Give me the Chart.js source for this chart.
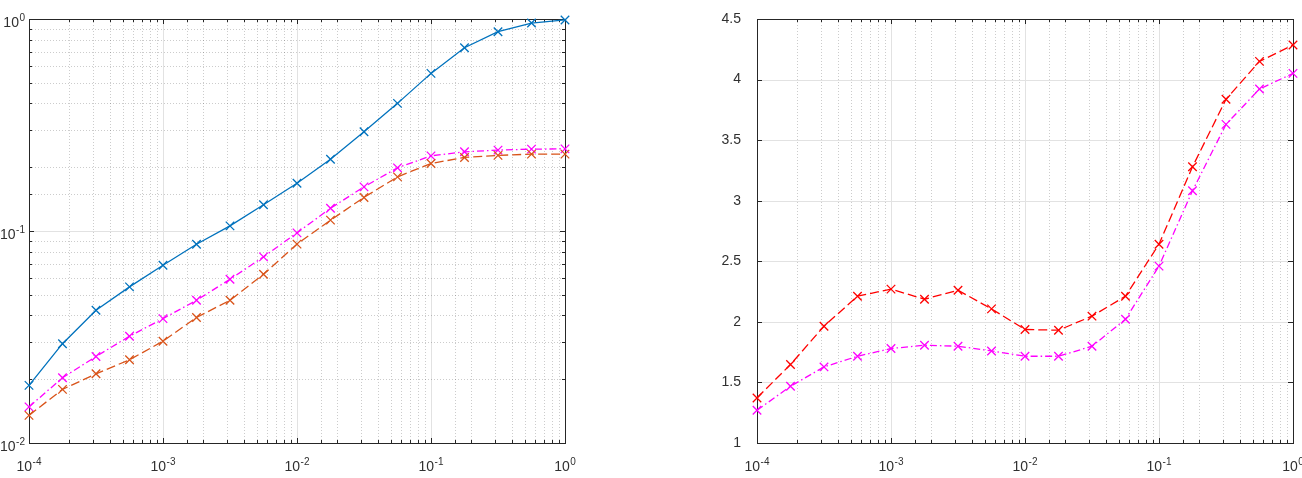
<!DOCTYPE html>
<html><head><meta charset="utf-8">
<script src="https://cdn.jsdelivr.net/npm/chart.js@4/dist/chart.umd.min.js"></script>
<style>
html,body{margin:0;padding:0;background:#fff;overflow:hidden}
#wrap{position:relative;width:1302px;height:478px;background:#fff}
canvas{position:absolute;top:0}
#c1{left:0}
#c2{left:651px}
</style></head><body>
<div id="wrap"><canvas id="c1" width="651" height="478"></canvas><canvas id="c2" width="651" height="478"></canvas></div>
<script>
// ---- data ----
const xValues = [1e-4, 1.778e-4, 3.162e-4, 5.623e-4, 1e-3, 1.778e-3, 3.162e-3, 5.623e-3, 1e-2, 1.778e-2, 3.162e-2, 5.623e-2, 1e-1, 0.1778, 0.3162, 0.5623, 1];
const leftBlue    = [0.0187, 0.0294, 0.0423, 0.0545, 0.0689, 0.0866, 0.1057, 0.133, 0.168, 0.218, 0.294, 0.400, 0.554, 0.732, 0.871, 0.957, 0.99];
const leftMagenta = [0.0148, 0.0203, 0.0256, 0.0319, 0.0386, 0.0471, 0.0592, 0.0755, 0.098, 0.128, 0.1615, 0.1986, 0.2262, 0.2363, 0.2407, 0.2433, 0.244];
const leftOrange  = [0.0135, 0.0179, 0.0212, 0.0247, 0.0302, 0.0391, 0.0471, 0.0625, 0.0867, 0.1125, 0.144, 0.180, 0.2083, 0.2223, 0.2273, 0.2305, 0.2305];
const rightRed     = [1.372, 1.648, 1.964, 2.212, 2.27, 2.187, 2.261, 2.107, 1.937, 1.931, 2.047, 2.212, 2.641, 3.280, 3.837, 4.150, 4.285];
const rightMagenta = [1.27, 1.468, 1.628, 1.716, 1.78, 1.807, 1.799, 1.76, 1.716, 1.716, 1.799, 2.022, 2.46, 3.082, 3.63, 3.922, 4.051];
const xRange = [1e-4, 1];
const leftYRange = [1e-2, 1];
const rightYRange = [1, 4.5];
const rightYStep = 0.5;

// ---- helpers ----
const FAMILY = "'Liberation Sans','DejaVu Sans',Arial,sans-serif";
const BASE_PX = 14, EXP_PX = 10;
const TXT = '#303030';
function isDecade(v){const e=Math.log10(v);return Math.abs(e-Math.round(e))<1e-6;}
function decadeExp(v){return String(Math.round(Math.log10(v)));}
const pts = (ys)=>xValues.map((x,i)=>({x:x,y:ys[i]}));

// draws "10" with a raised exponent; anchor: 'center' (x axis) or 'right' (y axis)
function drawPow(ctx, exp, x, baseline, anchor){
  ctx.font = BASE_PX+'px '+FAMILY;
  const wb = ctx.measureText('10').width;
  ctx.font = EXP_PX+'px '+FAMILY;
  const we = ctx.measureText(exp).width;
  const total = wb+we+0.5;
  let x0 = anchor==='center' ? x-total/2 : x-total;
  ctx.fillStyle = TXT;
  ctx.textAlign='left'; ctx.textBaseline='alphabetic';
  ctx.font = BASE_PX+'px '+FAMILY;
  ctx.fillText('10', x0, baseline);
  ctx.font = EXP_PX+'px '+FAMILY;
  ctx.fillText(exp, x0+wb+0.5, baseline-6);
}

const frame = {
  id:'frame',
  beforeDatasetsDraw(chart){
    const {ctx, chartArea:a, scales:{x,y}} = chart;
    const L=Math.round(a.left), R=Math.round(a.right), T=Math.round(a.top), B=Math.round(a.bottom);
    const yLog = y.type==='logarithmic';
    ctx.save();
    const vline=(px,major)=>{
      ctx.beginPath();
      ctx.setLineDash(major?[]:[1,2]);
      ctx.strokeStyle = major?'#e2e2e2':'rgba(0,0,0,0.2)';
      ctx.lineWidth=1;
      ctx.moveTo(px+0.5,T); ctx.lineTo(px+0.5,B); ctx.stroke();
    };
    const hline=(py,major)=>{
      ctx.beginPath();
      ctx.setLineDash(major?[]:[1,2]);
      ctx.strokeStyle = major?'#e2e2e2':'rgba(0,0,0,0.2)';
      ctx.lineWidth=1;
      ctx.moveTo(L,py+0.5); ctx.lineTo(R,py+0.5); ctx.stroke();
    };
    x.ticks.forEach(t=>{const px=Math.round(x.getPixelForValue(t.value)); if(px>L&&px<R) vline(px,isDecade(t.value));});
    y.ticks.forEach(t=>{const py=Math.round(y.getPixelForValue(t.value)); if(py>T&&py<B) hline(py, yLog?isDecade(t.value):true);});
    ctx.setLineDash([]);
    ctx.strokeStyle='#262626'; ctx.lineWidth=1;
    ctx.strokeRect(L+0.5,T+0.5,R-L,B-T);
    ctx.beginPath();
    x.ticks.forEach(t=>{
      const px=Math.round(x.getPixelForValue(t.value))+0.5;
      const len=isDecade(t.value)?5:3;
      ctx.moveTo(px,B); ctx.lineTo(px,B-len);
      ctx.moveTo(px,T); ctx.lineTo(px,T+len);
    });
    y.ticks.forEach(t=>{
      const py=Math.round(y.getPixelForValue(t.value))+0.5;
      const len=(!yLog||isDecade(t.value))?5:3;
      ctx.moveTo(L,py); ctx.lineTo(L+len,py);
      ctx.moveTo(R,py); ctx.lineTo(R-len,py);
    });
    ctx.stroke();
    // power-of-ten tick labels
    x.ticks.forEach(t=>{
      if(!isDecade(t.value)) return;
      drawPow(ctx, decadeExp(t.value), x.getPixelForValue(t.value), B+28, 'center');
    });
    if(yLog){
      y.ticks.forEach(t=>{
        if(!isDecade(t.value)) return;
        drawPow(ctx, decadeExp(t.value), L-4, y.getPixelForValue(t.value)+8, 'right');
      });
    }
    ctx.restore();
  }
};

function ds(data,color,dash){
  return {data:data,borderColor:color,backgroundColor:color,borderWidth:1.3,borderDash:dash,
    pointStyle:'crossRot',pointRadius:6,pointBorderWidth:1.3,pointBorderColor:color,
    pointHoverRadius:6,tension:0,fill:false,clip:false};
}

function xScale(){
  return {type:'logarithmic',min:xRange[0],max:xRange[1],
    grid:{display:false},border:{display:false},
    ticks:{display:false,autoSkip:false,maxRotation:0,minRotation:0},
    afterFit(s){s.height=35;}};
}

new Chart(document.getElementById('c1'),{
  type:'line',
  data:{datasets:[
    ds(pts(leftBlue),'#0072BD',[]),
    ds(pts(leftOrange),'#D95319',[9,4]),
    ds(pts(leftMagenta),'#FF00FF',[7,3,1.5,3])
  ]},
  options:{responsive:false,animation:false,devicePixelRatio:1,
    layout:{padding:{left:0,right:86,top:19,bottom:0}},
    plugins:{legend:{display:false},tooltip:{enabled:false}},
    scales:{
      x:xScale(),
      y:{type:'logarithmic',min:leftYRange[0],max:leftYRange[1],
        grid:{display:false},border:{display:false},
        ticks:{display:false,autoSkip:false},
        afterFit(s){s.width=29;}}
    }},
  plugins:[frame]
});

new Chart(document.getElementById('c2'),{
  type:'line',
  data:{datasets:[
    ds(pts(rightRed),'#FF0000',[9,4]),
    ds(pts(rightMagenta),'#FF00FF',[7,3,1.5,3])
  ]},
  options:{responsive:false,animation:false,devicePixelRatio:1,
    layout:{padding:{left:0,right:9,top:19,bottom:0}},
    plugins:{legend:{display:false},tooltip:{enabled:false}},
    scales:{
      x:xScale(),
      y:{type:'linear',min:rightYRange[0],max:rightYRange[1],
        grid:{display:false},border:{display:false},
        ticks:{stepSize:rightYStep,autoSkip:false,padding:8,color:TXT,
          font:{family:FAMILY,size:BASE_PX},callback:(v)=>String(v)},
        afterFit(s){s.width=106;}}
    }},
  plugins:[frame]
});
</script></body></html>
